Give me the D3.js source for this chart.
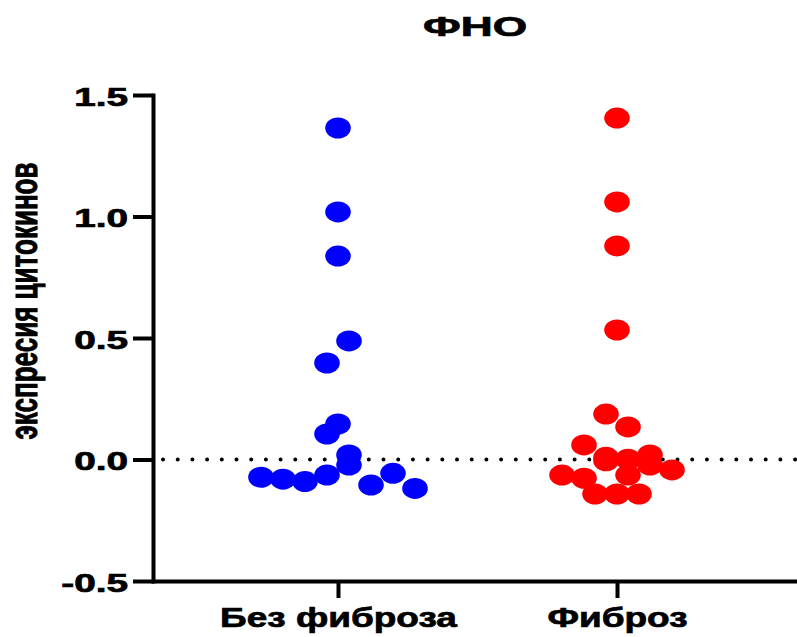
<!DOCTYPE html>
<html>
<head>
<meta charset="utf-8">
<script src="https://cdn.jsdelivr.net/npm/d3@7"></script>
<style>
  body { margin: 0; background: #fff; }
  svg text { font-family: "Liberation Sans", Arial, sans-serif; font-weight: bold; fill: #000;
             stroke: #000; stroke-width: 0.7px; }
</style>
</head>
<body>
<div id="container"></div>
<script>
// data
var categories = ["Без фиброза", "Фиброз"];
var bezFibroza = [1.364, 1.019, 0.837, 0.397, 0.488, 0.146, 0.105, 0.019,
                  -0.073, -0.081, -0.091, -0.064, -0.023, -0.105, -0.057, -0.119];
var fibroz = [1.405, 1.06, 0.879, 0.533, 0.187, 0.134, 0.06, 0.009, 0.001, 0.019,
              -0.064, -0.077, -0.005, -0.064, -0.023, -0.043, -0.142, -0.142, -0.142];
var yTicks = [-0.5, 0.0, 0.5, 1.0, 1.5];
var colors = ["#0000ff", "#ff0000"];
var title = "ФНО";
var yTitle = "экспресия цитокинов";

var width = 797, height = 637;
var binStep = 0.125;    // values in one bin are spread in a row
var laneStep = 22;

var svg = d3.select("#container").append("svg")
    .attr("width", width)
    .attr("height", height);

var x = d3.scalePoint()
    .domain(categories)
    .range([153, 802])
    .padding(0.663);
var y = d3.scaleLinear()
    .domain([-0.5, 1.5])
    .range([581, 95]);

// the source picture is stretched sideways, so widen the text the same way
function widen(sel, k) {
  sel.each(function() {
    var w = this.getComputedTextLength();
    d3.select(this).attr("textLength", w * k).attr("lengthAdjust", "spacingAndGlyphs");
  });
}

// dotted zero line
svg.append("line")
    .attr("x1", 163).attr("x2", width)
    .attr("y1", y(0)).attr("y2", y(0))
    .attr("stroke", "#000")
    .attr("stroke-width", 4)
    .attr("stroke-linecap", "round")
    .attr("stroke-dasharray", "0 14.7");

// y axis
var gy = svg.append("g")
    .attr("transform", "translate(153,0)")
    .call(d3.axisLeft(y).tickValues(yTicks)
        .tickFormat(function(d) { return d3.format(".1f")(d).replace("−", "-"); })
        .tickSize(20).tickSizeOuter(0).tickPadding(5));
gy.selectAll("path, line").attr("stroke", "#000").attr("stroke-width", 4)
    .attr("stroke-linecap", "square");
gy.selectAll(".tick line").attr("stroke-linecap", "butt");
gy.selectAll("text")
    .attr("font-size", 25)
    .attr("dy", "0.4em")
    .call(widen, 1.55);

// x axis
var gx = svg.append("g")
    .attr("transform", "translate(0,581)")
    .call(d3.axisBottom(x).tickSize(17).tickSizeOuter(0));
gx.selectAll("path, line").attr("stroke", "#000").attr("stroke-width", 4)
    .attr("stroke-linecap", "square");
gx.selectAll(".tick line").attr("stroke-linecap", "butt");
gx.selectAll("text")
    .attr("font-size", 28)
    .attr("y", 46)
    .attr("dy", 0)
    .call(widen, 1.32);

// beeswarm: values falling in the same bin share a row, centred on the category
function swarm(values, cat) {
  var pts = values.map(function(v, i) { return {v: v, i: i}; });
  var bins = d3.group(pts, function(d) { return Math.floor(d.v / binStep); });
  bins.forEach(function(row) {
    row.forEach(function(d, j) {
      d.cx = x(cat) + (j - (row.length - 1) / 2) * laneStep;
    });
  });
  return pts;
}

[bezFibroza, fibroz].forEach(function(vals, k) {
  svg.append("g").selectAll("ellipse")
      .data(swarm(vals, categories[k]))
      .enter().append("ellipse")
      .attr("cx", function(d) { return d.cx; })
      .attr("cy", function(d) { return y(d.v); })
      .attr("rx", 12.8)
      .attr("ry", 10.5)
      .attr("fill", colors[k]);
});

// title
svg.append("text")
    .attr("x", 475).attr("y", 36)
    .attr("text-anchor", "middle")
    .attr("font-size", 27)
    .text(title)
    .attr("textLength", 104)
    .attr("lengthAdjust", "spacingAndGlyphs");

// y axis title
svg.append("text")
    .attr("transform", "translate(37,301) rotate(-90) scale(1,1.5)")
    .attr("text-anchor", "middle")
    .attr("font-size", 26)
    .text(yTitle)
    .attr("textLength", 277)
    .attr("lengthAdjust", "spacingAndGlyphs");
</script>
</body>
</html>
